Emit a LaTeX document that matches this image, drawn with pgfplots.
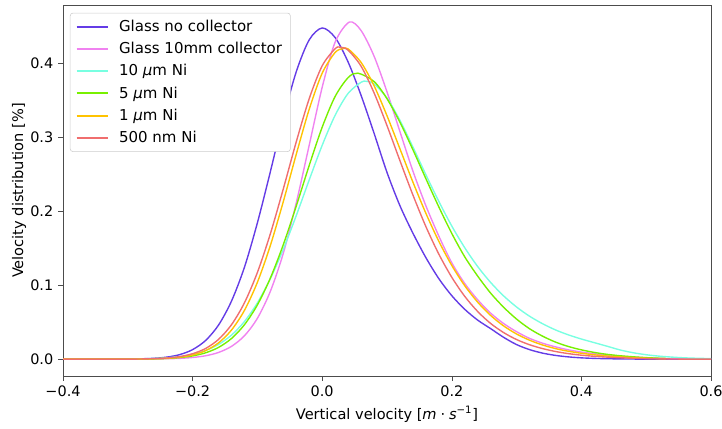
\documentclass[border=0pt]{standalone}
\usepackage{pgfplots}
\pgfplotsset{compat=1.18}
\usepackage{fontspec}
\setmainfont{DejaVu Sans}
\definecolor{cblue}{RGB}{100,60,230}
\definecolor{cpink}{RGB}{240,130,240}
\definecolor{ccyan}{RGB}{120,255,225}
\definecolor{cgreen}{RGB}{120,240,0}
\definecolor{corange}{RGB}{255,195,0}
\definecolor{cred}{RGB}{240,110,110}
\begin{document}
\begin{tikzpicture}
\begin{axis}[
  scale only axis,
  width=466.56pt, height=267.12pt,
  xmin=-0.4, xmax=0.6, ymin=-0.0228, ymax=0.478,
  xtick={-0.4,-0.2,0,0.2,0.4,0.6},
  xticklabels={−0.4,−0.2,0.0,0.2,0.4,0.6},
  ytick={0,0.1,0.2,0.3,0.4},
  yticklabels={0.0,0.1,0.2,0.3,0.4},
  tick align=outside, tick pos=left,
  major tick length=3.5pt,
  axis line style={black!70},
  every tick/.style={black!70},
  ticklabel style={font=\fontsize{10.4}{12}\selectfont},
  xlabel={Vertical velocity [\textit{m}\hspace{2.8pt}·\hspace{2.8pt}\textit{s}\textsuperscript{−1}]},
  ylabel={Velocity distribution [\%]},
  ylabel shift=-4pt,
  label style={font=\fontsize{10.5}{12}\selectfont},
  legend cell align=left,
  legend style={at={(0.0107,0.979)}, anchor=north west, draw=black!20, rounded corners=2pt,
    fill=white, font=\fontsize{10.8}{12}\selectfont,
    row sep=2.3pt, inner xsep=4pt, inner ysep=3pt},
  legend image code/.code={\draw[#1,line width=1.4pt] (0pt,0pt) -- (22.5pt,0pt); \path (28pt,0pt);},
  every axis plot/.append style={line width=1pt, smooth},
]
\addplot[cblue] coordinates {
(-0.40,0) (-0.34,0) (-0.30,0.00015) (-0.28,0.00042) (-0.26,0.0011) (-0.24,0.00267) (-0.22,0.00605)
(-0.20,0.0128) (-0.18,0.0251) (-0.16,0.0459) (-0.14,0.0783) (-0.12,0.124) (-0.10,0.184) (-0.08,0.253)
(-0.06,0.325) (-0.04,0.388) (-0.02,0.431) (0,0.447) (0.02,0.434) (0.04,0.401) (0.06,0.356) (0.08,0.305)
(0.10,0.252) (0.12,0.207) (0.14,0.170) (0.16,0.137) (0.18,0.1086) (0.20,0.0856) (0.22,0.0672) (0.24,0.0526)
(0.26,0.0411) (0.28,0.0294) (0.30,0.0196) (0.32,0.0128) (0.34,0.0081) (0.36,0.0050) (0.38,0.0030)
(0.40,0.0017) (0.42,0.00098) (0.44,0.00054) (0.46,0.00029) (0.50,0) (0.60,0)};
\addlegendentry{Glass no collector}
\addplot[cpink] coordinates {
(-0.40,0) (-0.30,0) (-0.26,0.0002) (-0.24,0.0005) (-0.22,0.0010) (-0.20,0.0022) (-0.18,0.0045)
(-0.16,0.0090) (-0.14,0.0172) (-0.12,0.0315) (-0.10,0.0551) (-0.08,0.0915) (-0.06,0.143) (-0.04,0.211)
(-0.02,0.289) (0,0.367) (0.02,0.428) (0.042,0.455) (0.06,0.4435) (0.08,0.409) (0.10,0.3607) (0.12,0.307)
(0.14,0.2538) (0.16,0.207) (0.18,0.166) (0.20,0.130) (0.22,0.102) (0.24,0.080) (0.26,0.062) (0.28,0.048)
(0.30,0.037) (0.32,0.028) (0.34,0.0215) (0.36,0.0165) (0.38,0.0125) (0.40,0.0095) (0.42,0.0072)
(0.44,0.0054) (0.46,0.0040) (0.48,0.0028) (0.50,0.0018) (0.52,0.0011) (0.54,0.0006) (0.56,0.0003)
(0.58,0.0001) (0.60,0)};
\addlegendentry{Glass 10mm collector}
\addplot[ccyan] coordinates {
(-0.40,0) (-0.32,0) (-0.30,0.0001) (-0.28,0.0004) (-0.26,0.0008) (-0.24,0.0017) (-0.22,0.0034)
(-0.20,0.0064) (-0.18,0.0116) (-0.16,0.0198) (-0.14,0.0324) (-0.12,0.0507) (-0.10,0.0759) (-0.08,0.1086)
(-0.06,0.1484) (-0.04,0.1938) (-0.02,0.2420) (0,0.2887) (0.02,0.3292) (0.04,0.3587) (0.06,0.3737)
(0.068,0.375) (0.08,0.3715) (0.10,0.3524) (0.12,0.3222) (0.14,0.2863) (0.16,0.2489) (0.18,0.2128)
(0.20,0.1796) (0.22,0.1503) (0.24,0.1249) (0.26,0.1034) (0.28,0.0853) (0.30,0.0703) (0.32,0.0579)
(0.34,0.0478) (0.36,0.0394) (0.38,0.0327) (0.40,0.0271) (0.42,0.0222) (0.44,0.0173) (0.46,0.0123)
(0.48,0.0086) (0.50,0.0059) (0.52,0.0040) (0.54,0.0027) (0.56,0.0017) (0.58,0.0011) (0.60,0.0007)};
\addlegendentry{10 \textit{μ}m Ni}
\addplot[cgreen] coordinates {
(-0.40,0) (-0.30,0) (-0.28,0.0001) (-0.26,0.0004) (-0.24,0.0009) (-0.22,0.0021) (-0.20,0.0043)
(-0.18,0.0085) (-0.16,0.0158) (-0.14,0.0278) (-0.12,0.0464) (-0.10,0.0732) (-0.08,0.1094) (-0.06,0.1546)
(-0.04,0.2067) (-0.02,0.2616) (0,0.3131) (0.02,0.3546) (0.04,0.380) (0.055,0.386) (0.08,0.3747)
(0.10,0.3515) (0.12,0.3197) (0.14,0.2826) (0.16,0.2436) (0.18,0.2054) (0.20,0.1696) (0.22,0.1380)
(0.24,0.112) (0.26,0.089) (0.28,0.070) (0.30,0.054) (0.32,0.041) (0.34,0.031) (0.36,0.023) (0.38,0.017)
(0.40,0.0125) (0.42,0.0090) (0.44,0.0064) (0.46,0.0045) (0.48,0.0031) (0.50,0.0020) (0.52,0.0012) (0.53,0.0009)};
\addlegendentry{5 \textit{μ}m Ni}
\addplot[corange] coordinates {
(-0.40,0) (-0.30,0) (-0.28,0.0002) (-0.26,0.0005) (-0.24,0.0011) (-0.22,0.0026) (-0.20,0.0056)
(-0.18,0.0114) (-0.16,0.0219) (-0.14,0.0392) (-0.12,0.0658) (-0.10,0.1037) (-0.08,0.1534) (-0.06,0.2127)
(-0.04,0.2766) (-0.02,0.3374) (0,0.386) (0.02,0.414) (0.032,0.419) (0.04,0.4187) (0.06,0.4005)
(0.08,0.3691) (0.10,0.3285) (0.12,0.2838) (0.14,0.2389) (0.16,0.1968) (0.18,0.1590) (0.20,0.1264)
(0.22,0.0991) (0.24,0.0768) (0.26,0.0589) (0.28,0.0448) (0.30,0.0339) (0.32,0.0255) (0.34,0.0191)
(0.36,0.0142) (0.38,0.0106) (0.40,0.0079) (0.42,0.0058) (0.44,0.0042) (0.46,0.0030) (0.48,0.0020)
(0.50,0.0012) (0.52,0.0006) (0.53,0.0004)};
\addlegendentry{1 \textit{μ}m Ni}
\addplot[cred] coordinates {
(-0.40,0) (-0.30,0) (-0.28,0.0002) (-0.26,0.0006) (-0.24,0.0015) (-0.22,0.0034) (-0.20,0.0073)
(-0.18,0.0143) (-0.16,0.0266) (-0.14,0.0464) (-0.12,0.0760) (-0.10,0.1170) (-0.08,0.1692) (-0.06,0.2299)
(-0.04,0.2934) (-0.02,0.3517) (0,0.396) (0.02,0.419) (0.028,0.421) (0.04,0.417) (0.06,0.3954)
(0.08,0.3595) (0.10,0.3152) (0.12,0.2678) (0.14,0.2215) (0.16,0.1789) (0.18,0.1417) (0.20,0.1104)
(0.22,0.0847) (0.24,0.0642) (0.26,0.0481) (0.28,0.0358) (0.30,0.0264) (0.32,0.0194) (0.34,0.0142)
(0.36,0.0103) (0.38,0.0074) (0.40,0.0053) (0.42,0.0038) (0.44,0.0027) (0.46,0.0018) (0.48,0.0012)
(0.50,0.0007) (0.52,0.0004) (0.54,0.0002) (0.56,0) (0.60,0)};
\addlegendentry{500 nm Ni}
\end{axis}
\pgfresetboundingbox
\path ([xshift=-45.36pt,yshift=-37.44pt]current axis.south west) rectangle ([xshift=7.92pt,yshift=3.6pt]current axis.north east);
\end{tikzpicture}
\end{document}
